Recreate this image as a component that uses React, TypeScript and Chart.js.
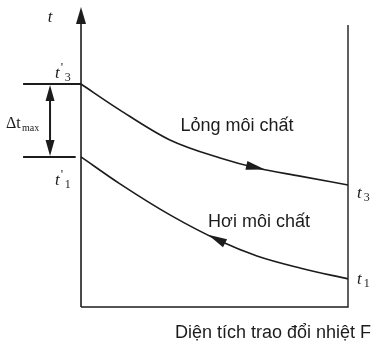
import React, { useEffect, useRef } from "react";
import { Chart, registerables } from "chart.js";

Chart.register(...registerables);

// Heat-exchange area F (0 = inlet side, 1 = outlet side)
const areaF = [0, 0.146, 0.333, 0.521, 0.659, 0.82, 1];
// Liquid refrigerant, cooled from t'3 down to t3
const liquidTemp = [100, 88.3, 74.9, 66.8, 62.3, 58.7, 54.7];
// Refrigerant vapour, heated from t1 up to t'1
const vaporTemp = [67.3, 55.2, 41.3, 29.6, 22.9, 17.5, 12.6];

// Curve / axis labels
const liquidLabel = "Lỏng môi chất";
const vaporLabel = "Hơi môi chất";
const xAxisTitle = "Diện tích trao đổi nhiệt F";
const yAxisTitle = "t";

// Where the direction arrows sit on each curve (in F)
const liquidArrowF = 0.689;
const vaporArrowF = 0.476;

// Axis extents (in data units)
const axisTopT = 134.5;
const rightEdgeTopT = 126.5;
const tickLeftF = -0.217;
const deltaF = -0.116;

const INK = "#1c1c1c";

function interp(xs: number[], ys: number[], v: number) {
  for (let i = 0; i < xs.length - 1; i++) {
    if (v >= xs[i] && v <= xs[i + 1]) {
      const k = (v - xs[i]) / (xs[i + 1] - xs[i]);
      return ys[i] + k * (ys[i + 1] - ys[i]);
    }
  }
  return ys[ys.length - 1];
}

function arrowHead(ctx: CanvasRenderingContext2D, tx: number, ty: number, ang: number, len: number, hw: number) {
  const bx = tx - len * Math.cos(ang);
  const by = ty - len * Math.sin(ang);
  const nx = -Math.sin(ang);
  const ny = Math.cos(ang);
  ctx.beginPath();
  ctx.moveTo(tx, ty);
  ctx.lineTo(bx + nx * hw, by + ny * hw);
  ctx.lineTo(bx - nx * hw, by - ny * hw);
  ctx.closePath();
  ctx.fill();
}

function symbol(ctx: CanvasRenderingContext2D, x: number, y: number, prime: boolean, sub: string) {
  ctx.font = "italic 17px 'Liberation Serif'";
  ctx.textAlign = "left";
  ctx.textBaseline = "alphabetic";
  ctx.fillText("t", x, y);
  let cx = x + ctx.measureText("t").width + 1;
  if (prime) {
    ctx.font = "13px 'Liberation Serif'";
    ctx.fillText("'", cx, y - 7);
    cx += 3;
  }
  if (sub) {
    ctx.font = "12px 'Liberation Serif'";
    ctx.fillText(sub, cx + 1, y + 3);
  }
}

const diagramPlugin = {
  id: "diagram",
  afterDatasetsDraw(chart: any) {
    const { ctx } = chart;
    const sx = chart.scales.x;
    const sy = chart.scales.y;
    const px = (v: number) => sx.getPixelForValue(v);
    const py = (v: number) => sy.getPixelForValue(v);

    ctx.save();
    ctx.strokeStyle = INK;
    ctx.fillStyle = INK;
    ctx.lineCap = "butt";

    // temperature axis with arrow
    ctx.lineWidth = 1.6;
    ctx.beginPath();
    ctx.moveTo(px(0), py(0));
    ctx.lineTo(px(0), py(axisTopT) + 10);
    ctx.stroke();
    arrowHead(ctx, px(0), py(axisTopT), -Math.PI / 2, 17, 5);

    // bottom edge (area axis) and the right-hand edge
    ctx.lineWidth = 1.4;
    ctx.beginPath();
    ctx.moveTo(px(0), py(0));
    ctx.lineTo(px(1), py(0));
    ctx.lineTo(px(1), py(rightEdgeTopT));
    ctx.stroke();

    // level marks for t'3 and t'1
    ctx.lineWidth = 2;
    ctx.beginPath();
    ctx.moveTo(px(tickLeftF), py(liquidTemp[0]));
    ctx.lineTo(px(0), py(liquidTemp[0]));
    ctx.moveTo(px(tickLeftF), py(vaporTemp[0]));
    ctx.lineTo(px(-0.02), py(vaporTemp[0]));
    ctx.stroke();

    // Δt_max double arrow
    const dx = px(deltaF);
    const yTop = py(liquidTemp[0]) + 1;
    const yBot = py(vaporTemp[0]) - 1;
    ctx.lineWidth = 2;
    ctx.beginPath();
    ctx.moveTo(dx, yTop + 12);
    ctx.lineTo(dx, yBot - 12);
    ctx.stroke();
    arrowHead(ctx, dx, yTop, -Math.PI / 2, 16, 4.5);
    arrowHead(ctx, dx, yBot, Math.PI / 2, 16, 4.5);

    // flow direction arrows on the curves
    const lt = interp(areaF, liquidTemp, liquidArrowF);
    const lt2 = interp(areaF, liquidTemp, liquidArrowF - 0.05);
    const la = Math.atan2(py(lt) - py(lt2), px(liquidArrowF) - px(liquidArrowF - 0.05));
    arrowHead(ctx, px(liquidArrowF), py(lt), la, 19, 4.5);

    const vt = interp(areaF, vaporTemp, vaporArrowF);
    const vt2 = interp(areaF, vaporTemp, vaporArrowF + 0.05);
    const va = Math.atan2(py(vt) - py(vt2), px(vaporArrowF) - px(vaporArrowF + 0.05));
    arrowHead(ctx, px(vaporArrowF), py(vt), va, 19, 4.5);

    // symbols
    ctx.font = "italic 17px 'Liberation Serif'";
    ctx.textAlign = "center";
    ctx.fillText(yAxisTitle, 50, 22);
    symbol(ctx, 55, 78, true, "3");
    symbol(ctx, 55, 185, true, "1");
    symbol(ctx, 357, 198, false, "3");
    symbol(ctx, 357, 284, false, "1");

    // Δt_max
    ctx.textAlign = "left";
    ctx.font = "16px 'Liberation Serif'";
    ctx.fillText("Δt", 6, 128);
    ctx.font = "10px 'Liberation Serif'";
    ctx.fillText("max", 22, 131);

    // curve names and area title
    ctx.font = "18px 'Liberation Sans'";
    ctx.textAlign = "center";
    ctx.textBaseline = "middle";
    ctx.fillText(liquidLabel, 237, 126);
    ctx.fillText(vaporLabel, 259, 222);
    ctx.fillText(xAxisTitle, 273, 333);
    ctx.restore();
  },
};

export default function App() {
  const ref = useRef<HTMLCanvasElement | null>(null);

  useEffect(() => {
    if (!ref.current) return;
    const chart = new Chart(ref.current, {
      type: "line",
      data: {
        datasets: [
          {
            label: liquidLabel,
            data: areaF.map((f, i) => ({ x: f, y: liquidTemp[i] })),
            borderColor: INK,
            borderWidth: 1.6,
            pointRadius: 0,
            cubicInterpolationMode: "monotone",
            fill: false,
          },
          {
            label: vaporLabel,
            data: areaF.map((f, i) => ({ x: f, y: vaporTemp[i] })),
            borderColor: INK,
            borderWidth: 1.6,
            pointRadius: 0,
            cubicInterpolationMode: "monotone",
            fill: false,
          },
        ],
      },
      options: {
        responsive: false,
        animation: false,
        layout: { padding: 0, autoPadding: false },
        scales: {
          x: { type: "linear", display: false, min: -0.3034, max: 1.1011 },
          y: { type: "linear", display: false, min: -20.18, max: 137.67 },
        },
        plugins: { legend: { display: false }, tooltip: { enabled: false } },
      },
      plugins: [diagramPlugin],
    } as any);
    return () => chart.destroy();
  }, []);

  return (
    <div style={{ position: "absolute", left: 0, top: 0, width: 375, height: 352, background: "#fff" }}>
      <canvas ref={ref} width={375} height={352} />
    </div>
  );
}
